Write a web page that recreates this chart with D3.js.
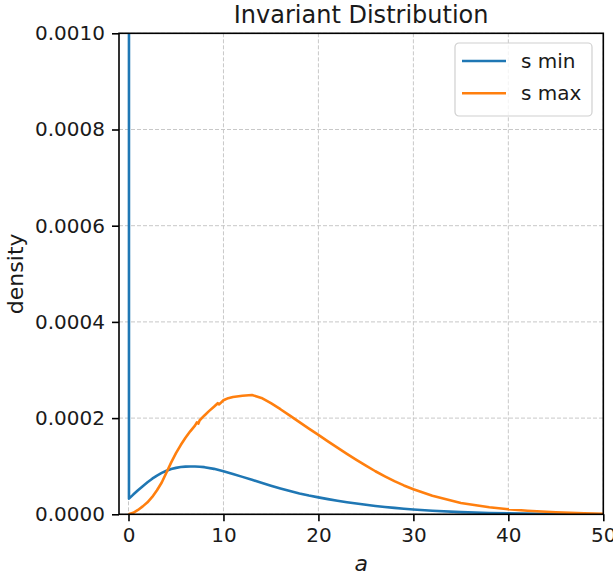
<!DOCTYPE html>
<html>
<head>
<meta charset="utf-8">
<script src="https://cdn.jsdelivr.net/npm/d3@7"></script>
<style>
	body { margin: 0; background: #fff; }
	svg { display: block; font-family: "DejaVu Sans", sans-serif; }
</style>
</head>
<body>
<main></main>
<script>
// s min: spike at a = 0 (goes far off the top), then a low hump
const blueA = [0, 0.05, 0.5, 1, 1.5, 2, 2.5, 3, 3.5, 4, 4.5, 5, 5.5, 6, 6.5, 7, 7.5, 8, 9, 10, 11, 12, 13, 14, 15, 16, 17, 18, 19, 20, 21, 22, 23, 24, 25, 26, 27, 28, 29, 30, 32, 35, 38, 40, 45, 50];
const blueDensity = [0.05, 0.0000325, 0.000041, 0.00005, 0.0000585, 0.0000665, 0.000074, 0.0000805, 0.000086, 0.0000905, 0.000094, 0.0000965, 0.0000982, 0.0000991, 0.0000995, 0.0000994, 0.0000989, 0.000098, 0.0000945, 0.0000895, 0.0000838, 0.0000778, 0.0000717, 0.0000656, 0.0000596, 0.0000538, 0.0000484, 0.0000434, 0.000039, 0.0000352, 0.0000316, 0.0000282, 0.0000251, 0.0000223, 0.0000197, 0.0000174, 0.0000153, 0.0000133, 0.0000115, 0.0000099, 0.0000073, 0.0000045, 0.0000027, 0.0000019, 0.0000007, 0.0000002];

// s max
const orangeA = [0, 0.5, 1, 1.5, 2, 2.5, 3, 3.5, 4, 4.5, 5, 5.5, 6, 6.5, 7, 7.2, 7.35, 7.5, 8, 8.5, 9, 9.4, 9.55, 10, 10.5, 11, 12, 13, 14, 15, 16, 17, 18, 19, 20, 21, 22, 23, 24, 25, 26, 27, 28, 29, 30, 32, 35, 38, 40, 42, 45, 48, 50];
const orangeDensity = [0, 0.000003, 0.000009, 0.0000165, 0.000025, 0.000036, 0.00005, 0.000066, 0.000087, 0.000108, 0.000127, 0.000144, 0.000159, 0.0001725, 0.0001845, 0.000191, 0.0001885, 0.0001955, 0.0002055, 0.000215, 0.0002235, 0.000231, 0.0002285, 0.000237, 0.0002415, 0.000244, 0.0002465, 0.000248, 0.000242, 0.000231, 0.0002185, 0.000205, 0.0001915, 0.000178, 0.000165, 0.0001515, 0.0001385, 0.0001255, 0.000113, 0.000101, 0.0000895, 0.000079, 0.000069, 0.00006, 0.000052, 0.0000385, 0.0000235, 0.0000145, 0.0000105, 0.0000075, 0.0000042, 0.0000022, 0.0000012];

const xTicks = [0, 10, 20, 30, 40, 50];
const yTicks = [0, 0.0002, 0.0004, 0.0006, 0.0008, 0.001];

const seriesNames = ["s min", "s max"];
const seriesColors = ["#1f77b4", "#ff7f0e"];

let drawChart = () => {
	const w = 613;
	const h = 574;
	const margin = ({top: 33.3, right: 9.7, bottom: 59.7, left: 119});

	let x = d3.scaleLinear()
		.domain([-1, 50])
		.range([margin.left, w - margin.right]);

	let y = d3.scaleLinear()
		.domain([0, 0.001])
		.range([h - margin.bottom, margin.top]);

	let svg = d3.select("main")
		.append("svg")
		.attr("width", w)
		.attr("height", h);

	svg.append("defs")
		.append("clipPath")
		.attr("id", "plot-clip")
		.append("rect")
		.attr("x", margin.left)
		.attr("y", margin.top)
		.attr("width", w - margin.left - margin.right)
		.attr("height", h - margin.top - margin.bottom);

	// grid
	svg.append("g")
		.selectAll("line")
		.data(xTicks)
		.join("line")
		.attr("x1", d => x(d)).attr("x2", d => x(d))
		.attr("y1", margin.top).attr("y2", h - margin.bottom)
		.attr("stroke", "#c8c8c8")
		.attr("stroke-width", 1)
		.attr("stroke-dasharray", "4,2");

	svg.append("g")
		.selectAll("line")
		.data(yTicks)
		.join("line")
		.attr("x1", margin.left).attr("x2", w - margin.right)
		.attr("y1", d => y(d)).attr("y2", d => y(d))
		.attr("stroke", "#c8c8c8")
		.attr("stroke-width", 1)
		.attr("stroke-dasharray", "4,2");

	// lines
	let line = d3.line()
		.x(d => x(d[0]))
		.y(d => y(d[1]));

	let series = [
		d3.zip(blueA, blueDensity),
		d3.zip(orangeA, orangeDensity)
	];

	svg.append("g")
		.attr("clip-path", "url(#plot-clip)")
		.selectAll("path")
		.data(series)
		.join("path")
		.attr("d", line)
		.attr("fill", "none")
		.attr("stroke", (d, i) => seriesColors[i])
		.attr("stroke-width", 2.6)
		.attr("stroke-linejoin", "round");

	// axes
	let xAxis = g => { g
		.attr("transform", `translate(0,${h - margin.bottom})`)
		.call(d3.axisBottom(x).tickValues(xTicks).tickSize(7).tickPadding(7).tickSizeOuter(0))
		.call(g => g.select(".domain").remove())
		.call(g => g.selectAll("line").attr("stroke", "#000").attr("stroke-width", 1.6))
		.call(g => g.selectAll("text").attr("font-size", 20).attr("fill", "#1a1a1a").attr("font-family", "DejaVu Sans"))
	};

	let yAxis = g => { g
		.attr("transform", `translate(${margin.left},0)`)
		.call(d3.axisLeft(y).tickValues(yTicks).tickFormat(d3.format(".4f")).tickSize(7).tickPadding(7).tickSizeOuter(0))
		.call(g => g.select(".domain").remove())
		.call(g => g.selectAll("line").attr("stroke", "#000").attr("stroke-width", 1.6))
		.call(g => g.selectAll("text").attr("font-size", 20).attr("fill", "#1a1a1a").attr("font-family", "DejaVu Sans"))
	};

	svg.append("g").call(xAxis);
	svg.append("g").call(yAxis);

	// frame
	svg.append("rect")
		.attr("x", margin.left)
		.attr("y", margin.top)
		.attr("width", w - margin.left - margin.right)
		.attr("height", h - margin.top - margin.bottom)
		.attr("fill", "none")
		.attr("stroke", "#000")
		.attr("stroke-width", 1.6);

	// labels
	svg.append("text")
		.attr("x", (margin.left + w - margin.right) / 2)
		.attr("y", 22.7)
		.attr("text-anchor", "middle")
		.attr("font-size", 24)
		.attr("fill", "#1a1a1a")
		.text("Invariant Distribution");

	svg.append("text")
		.attr("x", (margin.left + w - margin.right) / 2)
		.attr("y", 571)
		.attr("text-anchor", "middle")
		.attr("font-size", 22)
		.attr("font-style", "italic")
		.attr("fill", "#1a1a1a")
		.text("a");

	svg.append("text")
		.attr("transform", `translate(23,${(margin.top + h - margin.bottom) / 2}) rotate(-90)`)
		.attr("text-anchor", "middle")
		.attr("font-size", 22)
		.attr("fill", "#1a1a1a")
		.text("density");

	// legend
	let legend = svg.append("g")
		.attr("transform", "translate(455,43)");

	legend.append("rect")
		.attr("width", 137)
		.attr("height", 73)
		.attr("rx", 4)
		.attr("fill", "#fff")
		.attr("fill-opacity", 0.8)
		.attr("stroke", "#d0d0d0")
		.attr("stroke-width", 1.2);

	let item = legend.selectAll("g")
		.data(seriesNames)
		.join("g")
		.attr("transform", (d, i) => `translate(0,${18 + i * 32.3})`);

	item.append("line")
		.attr("x1", 7).attr("x2", 51)
		.attr("stroke", (d, i) => seriesColors[i])
		.attr("stroke-width", 2.6);

	item.append("text")
		.attr("x", 66)
		.attr("dy", "0.35em")
		.attr("font-size", 20)
		.attr("fill", "#1a1a1a")
		.text(d => d);
};

drawChart();
</script>
</body>
</html>
